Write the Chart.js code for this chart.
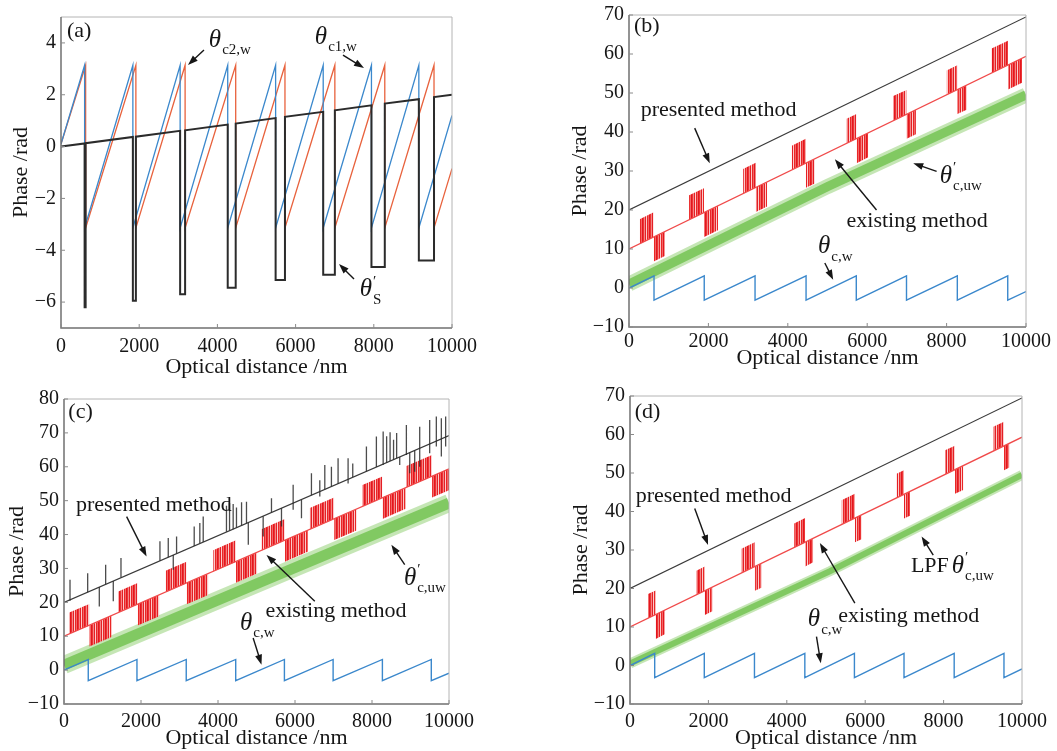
<!DOCTYPE html>
<html lang="en">
<head>
<meta charset="UTF-8">
<title>Phase unwrapping: presented vs existing method</title>
<style>
  body { margin: 0; width: 1057px; height: 751px; background: #fff; overflow: hidden; }
  canvas { position: absolute; }
  #chartA { left: 0; top: 0; }
  #chartB { left: 530px; top: 0; }
  #chartC { left: 0; top: 380px; }
  #chartD { left: 530px; top: 380px; }
</style>
</head>
<body>
<canvas id="chartA" width="530" height="380"></canvas>
<canvas id="chartB" width="527" height="380"></canvas>
<canvas id="chartC" width="530" height="371"></canvas>
<canvas id="chartD" width="527" height="371"></canvas>

<script src="https://cdn.jsdelivr.net/npm/chart.js"></script>
<script>
// ---- tick values ----
const xTicks = [0, 2000, 4000, 6000, 8000, 10000];
const yTicksA = [-6, -4, -2, 0, 2, 4];
const yTicks70 = [-10, 0, 10, 20, 30, 40, 50, 60, 70];
const yTicks80 = [-10, 0, 10, 20, 30, 40, 50, 60, 70, 80];

// ---- (a) wrapped phases ----
const c1wX = [0, 604, 604, 1838, 1838, 3047, 3047, 4264, 4264, 5489, 5489, 6706, 6706, 7940, 7940, 9152, 9152, 10000];
const c1wY = [0.1, 3.14, -3.14, 3.14, -3.14, 3.14, -3.14, 3.14, -3.14, 3.14, -3.14, 3.14, -3.14, 3.14, -3.14, 3.14, -3.14, 1.2];
const c2wX = [0, 630, 630, 1915, 1915, 3174, 3174, 4468, 4468, 5728, 5728, 7004, 7004, 8281, 8281, 9540, 9540, 10000];
const c2wY = [0.1, 3.14, -3.14, 3.14, -3.14, 3.14, -3.14, 3.14, -3.14, 3.14, -3.14, 3.14, -3.14, 3.14, -3.14, 3.14, -3.14, -0.85];
const sX = [0, 604, 604, 630, 630, 1838, 1838, 1915, 1915, 3047, 3047, 3174, 3174, 4264, 4264, 4468, 4468,
            5489, 5489, 5728, 5728, 6706, 6706, 7004, 7004, 7940, 7940, 8281, 8281, 9152, 9152, 9540, 9540, 10000];
const sY = [0, 0.12, -6.2, -6.2, 0.13, 0.37, -5.95, -5.95, 0.38, 0.61, -5.7, -5.7, 0.63, 0.85, -5.45, -5.45, 0.89,
            1.10, -5.15, -5.15, 1.15, 1.34, -4.95, -4.95, 1.40, 1.59, -4.65, -4.65, 1.66, 1.83, -4.4, -4.4, 1.91, 2.0];

// ---- (b)-(d) wrapped carrier phase theta_c,w ----
const cwX = [0, 630, 630, 1895, 1895, 3175, 3175, 4460, 4460, 5725, 5725, 6990, 6990, 8270, 8270, 9540, 9540, 10000];
const cwY = [0, 3.14, -3.14, 3.14, -3.14, 3.14, -3.14, 3.14, -3.14, 3.14, -3.14, 3.14, -3.14, 3.14, -3.14, 3.14, -3.14, -0.9];

// straight unwrapped results
const lineX = [0, 10000];
const presBY = [20, 69.5];
const existBY = [10, 59.4];
const presCY = [20, 69.2];
const existCY = [10, 59.4];
const presDY = [20, 69.5];
const existDY = [10, 59.3];

// noisy theta'_c,uw band centre
const greenBX = [0, 5000, 10000];
const greenBY = [1, 26, 49.5];
const greenCX = [0, 5260, 10000];
const greenCY = [1.5, 26.7, 49.3];
const greenDX = [0, 5098, 10000];
const greenDY = [0.5, 24.5, 49.5];

// 2pi error bursts of the existing method: [xStart, xEnd, low1, low2, high1, high2]
const burstsB = [
  [269, 622, 11.3, 13.1, 17.6, 19.4], [623, 900, 6.8, 8.2, 13.1, 14.4],
  [1513, 1890, 17.5, 19.3, 23.8, 25.6], [1891, 2244, 13.1, 14.8, 19.3, 21.1],
  [2874, 3193, 24.2, 25.8, 30.5, 32.1], [3194, 3479, 19.5, 20.9, 25.8, 27.2],
  [4100, 4454, 30.3, 32.0, 36.5, 38.3], [4455, 4680, 25.7, 26.8, 32.0, 33.1],
  [5479, 5731, 37.1, 38.3, 43.4, 44.6], [5732, 6025, 32.0, 33.5, 38.3, 39.8],
  [6655, 6992, 42.9, 44.5, 49.2, 50.8], [6993, 7227, 38.3, 39.4, 44.5, 45.7],
  [8000, 8269, 49.5, 50.9, 55.8, 57.1], [8270, 8504, 44.6, 45.7, 50.9, 52.0],
  [9134, 9546, 55.1, 57.2, 61.4, 63.4], [9547, 9899, 50.9, 52.6, 57.2, 58.9]
];
const burstsC = [
  [138, 657, 10.7, 13.2, 17.0, 19.5], [658, 1237, 7.0, 9.8, 13.2, 16.1],
  [1410, 1912, 17.0, 19.4, 23.2, 25.7], [1913, 2474, 13.2, 15.9, 19.4, 22.2],
  [2638, 3183, 23.0, 25.7, 29.3, 32.0], [3184, 3746, 19.4, 22.2, 25.7, 28.5],
  [3875, 4464, 29.1, 32.0, 35.4, 38.3], [4465, 5017, 25.8, 28.5, 32.0, 34.8],
  [5130, 5735, 35.3, 38.3, 41.6, 44.6], [5736, 6341, 32.0, 35.0, 38.3, 41.3],
  [6384, 7016, 41.5, 44.7, 47.8, 50.9], [7017, 7595, 38.4, 41.2, 44.7, 47.5],
  [7751, 8270, 48.3, 50.9, 54.6, 57.1], [8271, 8875, 44.6, 47.6, 50.9, 53.8],
  [8893, 9559, 53.9, 57.2, 60.2, 63.5], [9560, 10000, 50.9, 53.1, 57.2, 59.4]
];
const burstsD = [
  [460, 655, 12.3, 13.2, 18.6, 19.5], [656, 885, 6.9, 8.1, 13.2, 14.4],
  [1694, 1906, 18.4, 19.4, 24.6, 25.7], [1907, 2102, 13.1, 14.1, 19.4, 20.4],
  [2843, 3183, 24.0, 25.7, 30.3, 32.0], [3184, 3353, 19.4, 20.2, 25.7, 26.5],
  [4187, 4468, 30.6, 32.0, 36.9, 38.3], [4469, 4672, 25.7, 26.8, 32.0, 33.0],
  [5396, 5736, 36.6, 38.3, 42.9, 44.6], [5737, 5906, 32.0, 32.8, 38.3, 39.1],
  [6800, 6987, 43.5, 44.4, 49.8, 50.7], [6988, 7140, 38.2, 38.9, 44.4, 45.2],
  [8034, 8289, 49.6, 50.9, 55.9, 57.1], [8290, 8502, 44.6, 45.6, 50.9, 51.9],
  [9268, 9540, 55.7, 57.0, 62.0, 63.3], [9541, 9677, 50.7, 51.4, 57.0, 57.7]
];

// (c) impulse errors on the presented method: [x, low, high]
const spikesC = [
  [156, 20.5, 26.7], [615, 23.0, 28.6], [917, 18.8, 24.5], [1082, 25.3, 31.1], [1280, 20.3, 26.3],
  [1480, 27.3, 33.1], [2492, 32.3, 38.0], [2708, 33.3, 39.0], [2838, 29.6, 34.0], [2924, 34.4, 39.4],
  [3382, 36.6, 42.4], [3528, 37.4, 43.4], [3616, 37.8, 45.3], [4220, 40.8, 48.5], [4300, 41.2, 49.3],
  [4394, 41.6, 49.0], [4480, 42.0, 48.0], [4612, 42.7, 49.5], [4740, 43.3, 49.7], [4787, 37.0, 43.5],
  [5173, 39.4, 45.4], [5389, 46.5, 50.7], [5649, 42.4, 47.8], [5952, 47.3, 54.7], [6168, 44.8, 50.3],
  [6427, 51.6, 58.1], [6644, 51.2, 56.0], [6774, 53.3, 60.5], [6946, 54.2, 60.0], [7119, 55.0, 62.5],
  [7379, 55.1, 62.5], [7500, 57.0, 61.0], [7855, 58.6, 66.0], [8114, 59.9, 68.9], [8290, 60.5, 70.4],
  [8380, 61.2, 69.0], [8470, 61.7, 70.2], [8560, 62.1, 68.0], [8640, 62.5, 70.0], [8720, 60.5, 62.9],
  [8893, 63.5, 72.3], [8980, 58.1, 64.2], [9109, 58.5, 64.8], [9239, 60.0, 71.8], [9498, 64.0, 73.8],
  [9671, 66.0, 74.8], [9801, 63.0, 74.3], [9913, 66.0, 74.8]
];

// ---- styling ----
const serif = '"Liberation Serif", "DejaVu Serif", serif';
const ink = '#161616';
const tickFont = { family: serif, size: 20 };
const titleFont = { family: serif, size: 22 };

function pts(xs, ys) {
  return xs.map((x, i) => ({ x: x, y: ys[i] }));
}

function burstEdge(rows, low) {
  const out = [];
  rows.forEach(r => {
    out.push({ x: r[0], y: low ? r[2] : r[4] });
    out.push({ x: r[1], y: low ? r[3] : r[5] });
    out.push({ x: r[1], y: null });
  });
  return out;
}

function spikePoints(rows) {
  const out = [];
  rows.forEach(r => {
    out.push({ x: r[0], y: r[1] }, { x: r[0], y: r[2] }, { x: r[0], y: null });
  });
  return out;
}

// 1px wide vertical stripes for the dense 2pi-jump bursts
function stripes(cols) {
  const c = document.createElement('canvas');
  c.width = cols.length;
  c.height = 2;
  const g = c.getContext('2d');
  cols.forEach((col, i) => { g.fillStyle = col; g.fillRect(i, 0, 1, 2); });
  return g.createPattern(c, 'repeat');
}

const redStripes = stripes(['#e3161e', '#ec3434', 'rgba(242,120,120,0.9)', '#e41f25',
                            'rgba(250,185,185,0.75)', '#ea2626', 'rgba(240,95,95,0.95)']);

function fmt(v) {
  return v < 0 ? '\u2212' + (-v) : String(v);
}

function zeroPad(s) {
  s.paddingLeft = 0; s.paddingRight = 0; s.paddingTop = 0; s.paddingBottom = 0;
}

// plot box with inward ticks
const framePlugin = {
  id: 'frame',
  afterDatasetsDraw(chart) {
    const { ctx, chartArea: a, scales } = chart;
    ctx.save();
    ctx.lineWidth = 1;
    ctx.strokeStyle = '#b4b4b4';
    ctx.beginPath();
    ctx.moveTo(a.left, a.top); ctx.lineTo(a.right, a.top); ctx.lineTo(a.right, a.bottom);
    ctx.stroke();
    ctx.lineWidth = 1.5;
    ctx.strokeStyle = '#707070';
    ctx.beginPath();
    ctx.moveTo(a.left, a.top); ctx.lineTo(a.left, a.bottom); ctx.lineTo(a.right, a.bottom);
    ctx.stroke();
    ctx.lineWidth = 1;
    ctx.strokeStyle = '#8a8a8a';
    scales.x.ticks.forEach(t => {
      const px = scales.x.getPixelForValue(t.value);
      ctx.beginPath(); ctx.moveTo(px, a.bottom); ctx.lineTo(px, a.bottom - 4); ctx.stroke();
    });
    scales.y.ticks.forEach(t => {
      const py = scales.y.getPixelForValue(t.value);
      ctx.beginPath(); ctx.moveTo(a.left, py); ctx.lineTo(a.left + 4, py); ctx.stroke();
    });
    ctx.restore();
  }
};

function drawTheta(ctx, px, py, sub, prime) {
  ctx.font = 'italic 25px ' + serif;
  ctx.textAlign = 'center';
  ctx.fillText('\u03b8', px, py);
  const w = ctx.measureText('\u03b8').width;
  ctx.textAlign = 'left';
  if (prime) {
    ctx.font = '15px ' + serif;
    ctx.fillText('\u2032', px + w / 2 + 1, py - 8);
  }
  ctx.font = '15px ' + serif;
  ctx.fillText(sub, px + w / 2 + 1, py + 10);
}

function drawArrow(ctx, x1, y1, x2, y2) {
  const ang = Math.atan2(y2 - y1, x2 - x1);
  const hl = 10, hw = 3.5;
  ctx.lineWidth = 1.4;
  ctx.beginPath();
  ctx.moveTo(x1, y1);
  ctx.lineTo(x2 - Math.cos(ang) * hl * 0.8, y2 - Math.sin(ang) * hl * 0.8);
  ctx.stroke();
  ctx.beginPath();
  ctx.moveTo(x2, y2);
  ctx.lineTo(x2 - Math.cos(ang) * hl - Math.sin(ang) * hw, y2 - Math.sin(ang) * hl + Math.cos(ang) * hw);
  ctx.lineTo(x2 - Math.cos(ang) * hl + Math.sin(ang) * hw, y2 - Math.sin(ang) * hl - Math.cos(ang) * hw);
  ctx.closePath();
  ctx.fill();
}

// annotations, placed in data coordinates
function notesPlugin(items) {
  return {
    id: 'notes',
    afterDraw(chart) {
      const { ctx, scales: { x, y } } = chart;
      ctx.save();
      ctx.fillStyle = ink;
      ctx.strokeStyle = ink;
      ctx.textBaseline = 'middle';
      items.forEach(n => {
        const px = x.getPixelForValue(n.x), py = y.getPixelForValue(n.y);
        if (n.kind === 'text') {
          ctx.font = '22px ' + serif;
          ctx.textAlign = 'left';
          ctx.fillText(n.text, px, py);
        } else if (n.kind === 'theta') {
          drawTheta(ctx, px, py, n.sub, n.prime);
        } else if (n.kind === 'arrow') {
          drawArrow(ctx, px, py, x.getPixelForValue(n.x2), y.getPixelForValue(n.y2));
        }
      });
      ctx.restore();
    }
  };
}

function line(data, color, width) {
  return { data: data, borderColor: color, borderWidth: width, pointRadius: 0, fill: false, clip: 0 };
}

// noisy band: wide pale halo plus a denser core
function greenBand(data, width) {
  return [
    line(data, 'rgba(122,198,90,0.9)', width * 0.6),
    line(data, 'rgba(150,210,120,0.55)', width)
  ];
}

function burstSets(rows) {
  return [
    { data: burstEdge(rows, false), borderWidth: 0, pointRadius: 0, fill: '+1', backgroundColor: redStripes, clip: 0 },
    { data: burstEdge(rows, true), borderWidth: 0, pointRadius: 0, fill: false, clip: 0 }
  ];
}

function buildPanel(id, geo, yMin, yMax, yTicks, datasets, notes) {
  return new Chart(document.getElementById(id), {
    type: 'line',
    data: { datasets: datasets },
    options: {
      responsive: false,
      animation: false,
      devicePixelRatio: 1,
      layout: { padding: { left: 0, top: geo.top, right: geo.right, bottom: 0 } },
      elements: { point: { radius: 0 }, line: { tension: 0 } },
      plugins: { legend: { display: false }, tooltip: { enabled: false } },
      scales: {
        x: {
          type: 'linear', min: 0, max: 10000,
          grid: { display: false, drawTicks: false },
          border: { display: false },
          ticks: { font: tickFont, color: ink, padding: geo.xtk, maxRotation: 0, callback: fmt },
          afterBuildTicks: s => { s.ticks = xTicks.map(v => ({ value: v })); },
          afterFit: s => { s.height = geo.xh; zeroPad(s); },
          title: { display: true, text: 'Optical distance /nm', font: titleFont, color: ink,
                   padding: { top: 0, bottom: geo.xtp } }
        },
        y: {
          type: 'linear', min: yMin, max: yMax,
          grid: { display: false, drawTicks: false },
          border: { display: false },
          ticks: { font: tickFont, color: ink, padding: 5, callback: fmt },
          afterBuildTicks: s => { s.ticks = yTicks.map(v => ({ value: v })); },
          afterFit: s => { s.width = geo.yw; zeroPad(s); },
          title: { display: true, text: 'Phase /rad', font: titleFont, color: ink,
                   padding: { top: geo.ytp, bottom: 0 } }
        }
      }
    },
    plugins: [framePlugin, notesPlugin(notes)]
  });
}

const blue = '#3b88cc';
const red = '#f04a4a';
const gray = '#3a3a3a';

// (a)
buildPanel('chartA', { top: 17, right: 78, yw: 61, xh: 52, ytp: 8, xtp: 0, xtk: 7 }, -7, 5, yTicksA, [
  line(pts(sX, sY), '#2b2b2b', 2),
  line(pts(c1wX, c1wY), blue, 1.3),
  line(pts(c2wX, c2wY), '#e8623d', 1.3)
], [
  { kind: 'text', text: '(a)', x: 153, y: 4.46 },
  { kind: 'theta', sub: 'c2,w', x: 3939, y: 4.11 },
  { kind: 'arrow', x: 3657, y: 3.73, x2: 3248, y2: 3.15 },
  { kind: 'theta', sub: 'c1,w', x: 6650, y: 4.23 },
  { kind: 'arrow', x: 7212, y: 3.53, x2: 7749, y2: 3.03 },
  { kind: 'theta', sub: 'S', prime: true, x: 7800, y: -5.53 },
  { kind: 'arrow', x: 7494, y: -5.11, x2: 7110, y2: -4.53 }
]);

// (b)
buildPanel('chartB', { top: 15, right: 31, yw: 99, xh: 53, ytp: 37, xtp: 9, xtk: 3 }, -10, 70, yTicks70, [
  line(pts(lineX, presBY), gray, 1.2),
  line(pts(lineX, existBY), red, 1.3),
  ...burstSets(burstsB),
  line(pts(cwX, cwY), blue, 1.4),
  ...greenBand(pts(greenBX, greenBY), 15)
], [
  { kind: 'text', text: '(b)', x: 126, y: 67 },
  { kind: 'text', text: 'presented method', x: 294, y: 45.7 },
  { kind: 'arrow', x: 1655, y: 41, x2: 2034, y2: 32 },
  { kind: 'text', text: 'existing method', x: 5479, y: 17.05 },
  { kind: 'arrow', x: 6235, y: 20, x2: 5185, y2: 33 },
  { kind: 'theta', sub: 'c,uw', prime: true, x: 7983, y: 28.6 },
  { kind: 'arrow', x: 7748, y: 29.9, x2: 7160, y2: 32 },
  { kind: 'theta', sub: 'c,w', x: 4916, y: 10.6 },
  { kind: 'arrow', x: 4933, y: 6.4, x2: 5143, y2: 2.1 }
]);

// (c)
buildPanel('chartC', { top: 19, right: 81, yw: 64, xh: 47, ytp: 4, xtp: 0, xtk: 6 }, -10, 80, yTicks80, [
  line(spikePoints(spikesC), 'rgba(45,45,45,0.85)', 1.3),
  line(pts(lineX, presCY), gray, 1.2),
  line(pts(lineX, existCY), red, 1.3),
  ...burstSets(burstsC),
  line(pts(cwX, cwY), blue, 1.4),
  ...greenBand(pts(greenCX, greenCY), 18)
], [
  { kind: 'text', text: '(c)', x: 112, y: 76 },
  { kind: 'text', text: 'presented method', x: 311, y: 48.8 },
  { kind: 'arrow', x: 1626, y: 45.3, x2: 2145, y2: 33.5 },
  { kind: 'text', text: 'existing method', x: 5233, y: 17.3 },
  { kind: 'arrow', x: 6514, y: 20.3, x2: 5260, y2: 34 },
  { kind: 'theta', sub: 'c,uw', prime: true, x: 8988, y: 27.2 },
  { kind: 'arrow', x: 8850, y: 31.1, x2: 8503, y2: 37 },
  { kind: 'theta', sub: 'c,w', x: 4732, y: 13.9 },
  { kind: 'arrow', x: 4913, y: 9.5, x2: 5130, y2: 1.6 }
]);

// (d)
buildPanel('chartD', { top: 16, right: 35, yw: 100, xh: 47, ytp: 38, xtp: 0, xtk: 6 }, -10, 70, yTicks70, [
  line(pts(lineX, presDY), gray, 1.2),
  line(pts(lineX, existDY), red, 1.3),
  ...burstSets(burstsD),
  line(pts(cwX, cwY), blue, 1.4),
  ...greenBand(pts(greenDX, greenDY), 10)
], [
  { kind: 'text', text: '(d)', x: 119, y: 65.7 },
  { kind: 'text', text: 'presented method', x: 145, y: 44 },
  { kind: 'arrow', x: 1651, y: 40.8, x2: 1991, y2: 31.3 },
  { kind: 'text', text: 'existing method', x: 5311, y: 12.9 },
  { kind: 'arrow', x: 5736, y: 16.2, x2: 4843, y2: 31.8 },
  { kind: 'text', text: 'LPF', x: 7166, y: 25.7 },
  { kind: 'theta', sub: 'c,uw', prime: true, x: 8366, y: 25.7 },
  { kind: 'arrow', x: 7736, y: 28.7, x2: 7438, y2: 33.5 },
  { kind: 'theta', sub: 'c,w', x: 4694, y: 11.9 },
  { kind: 'arrow', x: 4757, y: 7.5, x2: 4868, y2: 0.6 }
]);
</script>
</body>
</html>
